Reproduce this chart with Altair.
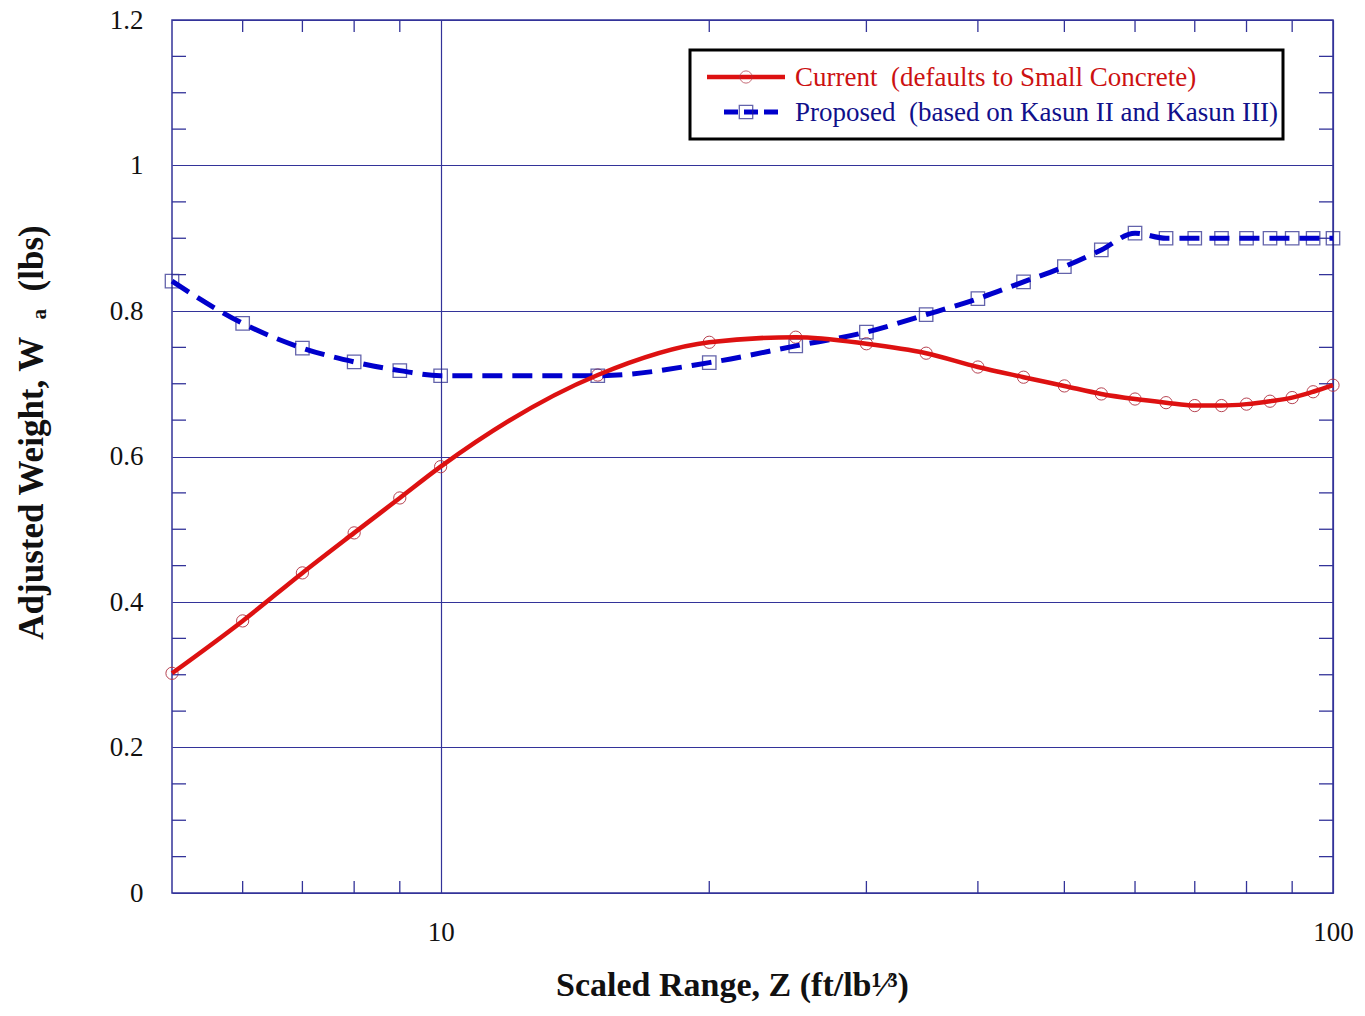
import altair as alt
import pandas as pd

# ---- data ----
z_values = [5, 6, 7, 8, 9, 10, 15, 20, 25, 30, 35, 40, 45, 50, 55, 60, 65, 70, 75, 80, 85, 90, 95, 100]
current_w = [0.302, 0.374, 0.440, 0.495, 0.543, 0.586, 0.712, 0.757, 0.764, 0.755, 0.742, 0.723, 0.709,
             0.697, 0.686, 0.679, 0.674, 0.670, 0.670, 0.672, 0.676, 0.681, 0.689, 0.698]
proposed_w = [0.841, 0.783, 0.749, 0.730, 0.718, 0.711, 0.711, 0.729, 0.752, 0.771, 0.795, 0.817, 0.840,
              0.861, 0.884, 0.907, 0.900, 0.900, 0.900, 0.900, 0.900, 0.900, 0.900, 0.900]

x_label_values = [10, 100]
x_minor_ticks = [6, 7, 8, 9, 20, 30, 40, 50, 60, 70, 80, 90]
y_label_values = [0, 0.2, 0.4, 0.6, 0.8, 1.0, 1.2]
y_minor_ticks = [0.05, 0.1, 0.15, 0.25, 0.3, 0.35, 0.45, 0.5, 0.55, 0.65, 0.7, 0.75,
                 0.85, 0.9, 0.95, 1.05, 1.1, 1.15]

legend_current = "Current\u00a0 (defaults to Small Concrete)"
legend_proposed = "Proposed\u00a0 (based on Kasun II and Kasun III)"
x_title = "Scaled Range, Z (ft/lb\u00b9\u2044\u00b3)"
y_title = "Adjusted Weight, W\u00a0\u00a0\u2090\u00a0 (lbs)"

W, H = 1161, 873
FONT = "Liberation Serif"
AXC = "#333399"
RED = "#dd1111"
BLUE = "#0000cc"

df = pd.DataFrame({"z": z_values, "current": current_w, "proposed": proposed_w})
xt = pd.DataFrame({"z": x_minor_ticks})
yt = pd.DataFrame({"current": y_minor_ticks})
one = pd.DataFrame({"k": [0]})

xscale = alt.Scale(type="log", domain=[5, 100], nice=False)
yscale = alt.Scale(domain=[0, 1.2], nice=False, zero=False)

x_axis = alt.Axis(values=x_label_values, format="d", grid=True, gridColor=AXC, gridWidth=1.2,
                  tickSize=0, domain=False, labelFont=FONT, labelFontSize=27, labelColor="#111",
                  labelPadding=26, labelFlush=False, labelOverlap=False, title=x_title,
                  titleFont=FONT, titleFontSize=34, titleFontWeight="bold", titleColor="#111",
                  titleX=560, titleY=92, titleBaseline="middle", titleAlign="center")
y_axis = alt.Axis(values=y_label_values, format="~g", grid=True, gridColor=AXC, gridWidth=1.2,
                  tickSize=0, domain=False, labelFont=FONT, labelFontSize=27, labelColor="#111",
                  labelPadding=29, labelFlush=False, labelOverlap=False, title=y_title,
                  titleFont=FONT, titleFontSize=35, titleFontWeight="bold", titleColor="#111",
                  titleX=-141, titleY=412, titleAngle=270, titleBaseline="middle", titleAlign="center")

X = alt.X("z:Q", scale=xscale, axis=x_axis)
Yc = alt.Y("current:Q", scale=yscale, axis=y_axis)
Yp = alt.Y("proposed:Q", scale=yscale, axis=y_axis)

base = alt.Chart(df)

cur_pts = base.mark_point(shape="circle", filled=False, size=150, stroke="#b03040", strokeWidth=1,
                          opacity=0.9).encode(x=X, y=Yc)
pro_pts = base.mark_point(shape="square", filled=False, size=180, stroke="#222288",
                          strokeWidth=1.3).encode(x=X, y=Yp)
cur_line = base.mark_line(color=RED, strokeWidth=4.5, interpolate="monotone").encode(x=X, y=Yc)
pro_line = base.mark_line(color=BLUE, strokeWidth=5, strokeDash=[20, 10],
                          interpolate="monotone").encode(x=X, y=Yp)

# inward minor ticks
xb = alt.Chart(xt).mark_rule(color=AXC, strokeWidth=1.3).encode(
    x=X, y=alt.value(H), y2=alt.value(H - 12))
xtop = alt.Chart(xt).mark_rule(color=AXC, strokeWidth=1.3).encode(
    x=X, y=alt.value(0), y2=alt.value(12))
yl = alt.Chart(yt).mark_rule(color=AXC, strokeWidth=1.3).encode(
    y=Yc, x=alt.value(0), x2=alt.value(14))
yr = alt.Chart(yt).mark_rule(color=AXC, strokeWidth=1.3).encode(
    y=Yc, x=alt.value(W - 14), x2=alt.value(W))

# legend box (drawn by hand, inside the plot)
lx0, lx1, ly0, ly1 = 518, 1111, 30, 119
leg_box = alt.Chart(one).mark_rect(fill="white", stroke="black", strokeWidth=3).encode(
    x=alt.value(lx0), x2=alt.value(lx1), y=alt.value(ly0), y2=alt.value(ly1))
leg_l1 = alt.Chart(one).mark_rule(color=RED, strokeWidth=4.5).encode(
    x=alt.value(535), x2=alt.value(613), y=alt.value(57))
leg_p1 = alt.Chart(one).mark_point(shape="circle", filled=False, size=150, stroke="#b03040",
                                   strokeWidth=1).encode(x=alt.value(574), y=alt.value(57))
leg_t1 = alt.Chart(one).mark_text(text=legend_current, align="left", baseline="middle", font=FONT,
                                  fontSize=27, color="#cc1111").encode(x=alt.value(623), y=alt.value(58))
leg_l2 = alt.Chart(one).mark_rule(color=BLUE, strokeWidth=5, strokeDash=[14, 6]).encode(
    x=alt.value(552), x2=alt.value(610), y=alt.value(92))
leg_p2 = alt.Chart(one).mark_point(shape="square", filled=False, size=180, stroke="#222288",
                                   strokeWidth=1.3).encode(x=alt.value(574), y=alt.value(92))
leg_t2 = alt.Chart(one).mark_text(text=legend_proposed, align="left", baseline="middle", font=FONT,
                                  fontSize=27, color="#10108a").encode(x=alt.value(623), y=alt.value(93))

chart = alt.layer(
    cur_pts, pro_pts, xb, xtop, yl, yr, pro_line, cur_line,
    leg_box, leg_l1, leg_p1, leg_t1, leg_l2, leg_p2, leg_t2,
).resolve_scale(x="shared", y="shared").properties(
    width=W, height=H,
    autosize=alt.AutoSizeParams(type="none"),
    padding={"left": 164, "top": 12, "right": 20, "bottom": 112},
    background="white",
).configure_view(stroke=AXC, strokeWidth=1.5)

chart.save("out.html", embed_options={"renderer": "svg", "actions": False})
